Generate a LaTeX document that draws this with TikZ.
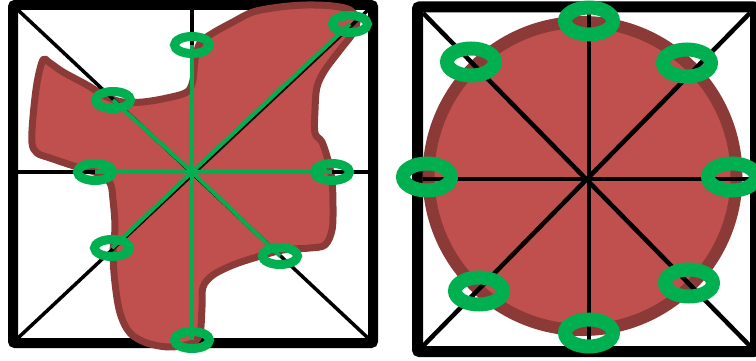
\documentclass[tikz,border=0pt]{standalone}
\usepackage{tikz}
\usetikzlibrary{shapes.geometric}
\definecolor{blobred}{HTML}{C0504D}
\definecolor{blobedge}{HTML}{8C3A38}
\definecolor{ringgreen}{HTML}{00B050}
\begin{document}
\begin{tikzpicture}[x=1pt,y=-1pt,frame/.style={draw=black,line width=10pt,rounded corners=2pt},guide/.style={draw=black,line width=3.5pt},spoke/.style={draw=ringgreen,line width=4pt},ringl/.style={ellipse,draw=ringgreen,line width=9pt,minimum width=35pt,minimum height=17pt,inner sep=0pt},ringr/.style={ellipse,draw=ringgreen,line width=14pt,minimum width=48pt,minimum height=27pt,inner sep=0pt}]
\useasboundingbox (0,0) rectangle (756,361);
% left: irregular shape
\draw[frame] (13,5) rectangle (373,343);
\coordinate (ltl) at (18,10);
\coordinate (ltr) at (368,10);
\coordinate (lbl) at (18,338);
\coordinate (lbr) at (368,338);
\coordinate (ltop) at (192,10);
\coordinate (lbot) at (192,338);
\coordinate (lwest) at (18,172);
\coordinate (least) at (368,172);
\coordinate (lc) at (192,172);
\draw[blobedge,fill=blobred,line width=7pt,line join=round] plot[smooth cycle,tension=0.55] coordinates {(43,60) (37,83) (33,117) (32,143) (37,153) (50,158) (77,167) (97,173) (110,183) (113,200) (115,227) (113,253) (115,283) (120,313) (130,333) (147,343) (170,347) (192,343) (200,333) (202,307) (203,287) (213,275) (233,265) (257,257) (283,250) (310,248) (325,245) (332,230) (333,207) (332,180) (328,160) (322,142) (315,133) (315,110) (317,87) (325,70) (340,50) (353,33) (357,20) (350,10) (333,6) (307,5) (280,7) (253,12) (233,22) (213,33) (200,43) (195,60) (193,80) (187,92) (167,98) (143,102) (123,102) (107,97) (87,85) (63,72) (50,63)};
\draw[guide] (ltl)--(lbr);
\draw[guide] (ltr)--(lbl);
\draw[guide] (ltop)--(lbot);
\draw[guide] (lwest)--(least);
\coordinate (L1) at (192,45);
\coordinate (L2) at (350,24);
\coordinate (L3) at (332,172);
\coordinate (L4) at (280,256);
\coordinate (L5) at (192,340);
\coordinate (L6) at (112,248);
\coordinate (L7) at (95,172);
\coordinate (L8) at (113,100);
\draw[spoke] (lc)--(L1);
\draw[spoke] (lc)--(L2);
\draw[spoke] (lc)--(L3);
\draw[spoke] (lc)--(L4);
\draw[spoke] (lc)--(L5);
\draw[spoke] (lc)--(L6);
\draw[spoke] (lc)--(L7);
\draw[spoke] (lc)--(L8);
\node[ringl] (l1) at (L1) {};
\node[ringl] (l2) at (L2) {};
\node[ringl] (l3) at (L3) {};
\node[ringl] (l4) at (L4) {};
\node[ringl] (l5) at (L5) {};
\node[ringl] (l6) at (L6) {};
\node[ringl] (l7) at (L7) {};
\node[ringl] (l8) at (L8) {};
% right: circle
\draw[frame,line width=11pt] (417.5,7) rectangle (755.5,351.5);
\coordinate (rtl) at (423,13);
\coordinate (rtr) at (750,13);
\coordinate (rbl) at (423,346);
\coordinate (rbr) at (750,346);
\coordinate (rtop) at (589,13);
\coordinate (rbot) at (589,346);
\coordinate (rwest) at (423,179);
\coordinate (reast) at (750,179);
\draw[blobedge,fill=blobred,line width=12pt] (582.5,176) circle[radius=154];
\draw[guide,line width=4.5pt] (rtl)--(rbr);
\draw[guide,line width=4.5pt] (rtr)--(rbl);
\draw[guide,line width=4.5pt] (rtop)--(rbot);
\draw[guide,line width=4.5pt] (rwest)--(reast);
\node[ringr] (r1) at (589,21) {};
\node[ringr] (r2) at (687,63) {};
\node[ringr] (r3) at (732,177) {};
\node[ringr] (r4) at (689,283) {};
\node[ringr] (r5) at (589,333) {};
\node[ringr] (r6) at (479,291) {};
\node[ringr] (r7) at (427,177) {};
\node[ringr] (r8) at (471,62) {};
\end{tikzpicture}
\end{document}
